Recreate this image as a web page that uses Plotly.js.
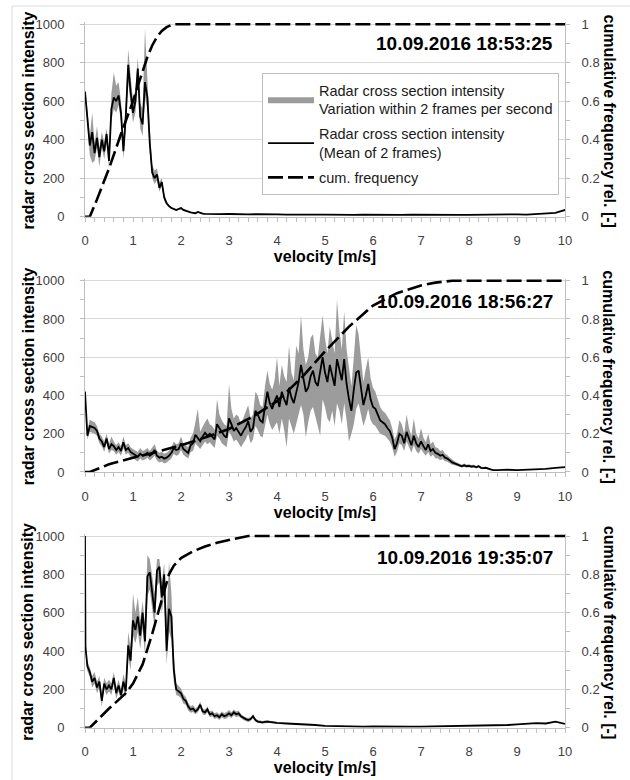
<!DOCTYPE html>
<html>
<head>
<meta charset="utf-8">
<script src="https://cdn.plot.ly/plotly-3.0.1.min.js"></script>
<style>html,body{margin:0;padding:0;background:#fff;}#chart{width:630px;height:780px;}</style>
</head>
<body>
<div id="chart"></div>
<script>
// ---------- Panel 1: 10.09.2016 18:53:25 ----------
const vel1 = [0,0.05,0.1,0.15,0.2,0.25,0.3,0.35,0.4,0.45,0.5,0.55,0.6,0.65,0.7,0.75,0.8,0.85,0.9,0.95,1,1.05,1.1,1.15,1.2,1.25,1.3,1.35,1.4,1.45,1.5,1.55,1.6,1.65,1.7,1.75,1.8,1.85,1.9,1.95,2,2.05,2.1,2.15,2.2,2.25,2.3,2.35,2.4,2.45,2.5,
  2.6,2.8,3,3.2,3.4,3.6,3.8,4,4.2,4.4,4.6,4.8,5,5.2,5.4,5.6,5.8,6,6.2,6.4,6.6,6.8,7,7.2,7.4,7.6,7.8,8,8.2,8.4,8.6,8.8,9,9.2,9.4,9.6,9.8,10];
const mean1 = [650,520,370,440,330,410,310,400,340,430,290,560,620,600,630,540,340,520,790,650,540,600,770,520,480,700,620,380,230,200,220,150,180,100,70,55,45,40,35,40,45,35,30,25,22,20,18,25,20,16,15,
  14,13,14,12,12,13,11,12,11,12,10,11,11,10,12,10,11,10,11,10,10,11,10,9,10,10,9,10,11,10,10,11,12,11,13,15,20,35];
const hi1 = [660,560,420,540,380,470,360,440,390,460,330,640,750,680,700,600,400,600,870,720,600,660,830,590,560,980,700,450,270,240,250,180,200,120,80,62,52,46,40,45,50,40,34,28,25,23,21,28,23,18,17];
const lo1 = [640,480,320,280,290,360,260,360,300,380,250,500,560,540,580,490,300,460,700,590,490,540,680,460,420,620,560,330,200,170,190,130,160,85,62,50,40,35,30,35,40,30,26,22,19,17,15,22,17,14,13];
const cumVel1 = [0,0.1,0.25,0.5,0.75,1.0,1.1,1.2,1.3,1.4,1.5,1.6,1.7,1.8,1.9,10];
const cum1 = [0,0,0.09,0.25,0.43,0.6,0.68,0.76,0.83,0.89,0.935,0.965,0.985,0.997,1,1];

// ---------- Panel 2: 10.09.2016 18:56:27 ----------
const vel2 = [0,0.05,0.1,0.15,0.2,0.25,0.3,0.35,0.4,0.45,0.5,0.55,0.6,0.65,0.7,0.75,0.8,0.85,0.9,0.95,
  1,1.05,1.1,1.15,1.2,1.25,1.3,1.35,1.4,1.45,1.5,1.55,1.6,1.65,1.7,1.75,1.8,1.85,1.9,1.95,
  2,2.05,2.1,2.15,2.2,2.25,2.3,2.35,2.4,2.45,2.5,2.55,2.6,2.65,2.7,2.75,2.8,2.85,2.9,2.95,
  3,3.05,3.1,3.15,3.2,3.25,3.3,3.35,3.4,3.45,3.5,3.55,3.6,3.65,3.7,3.75,3.8,3.85,3.9,3.95,
  4,4.05,4.1,4.15,4.2,4.25,4.3,4.35,4.4,4.45,4.5,4.55,4.6,4.65,4.7,4.75,4.8,4.85,4.9,4.95,
  5,5.05,5.1,5.15,5.2,5.25,5.3,5.35,5.4,5.45,5.5,5.55,5.6,5.65,5.7,5.75,5.8,5.85,5.9,5.95,
  6,6.05,6.1,6.15,6.2,6.25,6.3,6.35,6.4,6.45,6.5,6.55,6.6,6.65,6.7,6.75,6.8,6.85,6.9,6.95,
  7,7.05,7.1,7.15,7.2,7.25,7.3,7.35,7.4,7.45,7.5,7.55,7.6,7.65,7.7,7.75,7.8,7.85,7.9,7.95,
  8,8.05,8.1,8.15,8.2,8.25,8.3,8.35,8.4,8.45,8.5,
  8.6,8.8,9,9.2,9.4,9.6,9.8,10];
const mean2 = [420,190,240,235,230,215,175,160,130,175,
  120,145,135,115,130,110,155,115,125,105,
  95,85,80,95,85,90,100,85,95,115,
  85,75,80,70,75,85,100,125,115,120,
  150,120,110,100,140,150,195,175,160,185,
  205,190,200,185,170,250,230,205,190,180,
  280,250,215,230,210,190,215,235,265,210,
  230,320,300,270,260,340,420,360,330,370,
  400,340,420,380,350,440,390,360,420,470,
  560,480,420,440,500,530,470,450,520,600,
  520,470,560,510,450,590,540,480,590,460,
  380,320,430,520,530,430,350,400,460,380,
  340,330,300,270,260,250,230,215,180,120,
  150,200,190,150,210,170,140,190,150,130,
  160,135,115,145,110,120,100,95,85,90,
  75,70,60,50,45,40,35,30,35,30,
  32,28,30,25,30,22,20,22,18,12,10,
  10,12,10,12,13,16,22,25];
const hi2 = [440,215,275,265,260,240,200,185,160,200,
  145,185,160,140,155,135,185,140,150,130,
  120,110,105,125,110,115,125,110,125,145,
  110,100,105,95,100,110,130,160,145,150,
  185,150,140,130,180,200,260,330,210,240,
  260,280,250,240,220,380,300,270,250,240,
  460,330,280,300,290,250,280,310,350,280,
  300,420,400,350,340,450,530,460,430,480,
  600,450,560,500,470,660,520,480,660,620,
  820,640,560,600,700,720,620,600,700,820,
  700,620,760,680,620,900,740,640,840,640,
  540,450,600,770,720,580,470,540,600,490,
  440,420,380,340,320,310,290,270,230,170,
  200,270,250,200,300,230,190,280,200,175,
  230,180,155,200,145,160,130,125,110,115,
  95,88,75,63,56,50,44,38,44,38,
  40,36,38,32,38,28,26,28,23,16,14];
const lo2 = [400,170,210,205,200,190,150,135,105,150,
  95,115,110,90,105,85,125,90,100,80,
  70,60,55,70,60,65,75,60,70,85,
  60,50,55,45,50,60,70,95,85,90,
  115,90,80,70,105,110,150,135,120,140,
  160,145,155,140,125,190,175,150,140,130,
  210,190,160,170,150,130,150,170,200,150,
  170,240,220,190,180,240,300,250,220,240,
  260,200,280,220,130,280,240,200,250,300,
  350,300,180,260,320,340,290,250,190,380,
  340,280,260,320,240,360,320,250,360,270,
  160,200,250,330,360,300,240,280,330,270,
  250,240,220,200,195,190,175,160,130,80,
  105,150,140,110,160,125,100,140,110,95,
  120,100,85,105,80,90,72,70,62,68,
  56,54,46,38,35,31,27,23,27,23,
  25,21,23,19,23,17,15,17,14,9,7];
const cumVel2 = [0,0.1,0.5,1,1.5,2,2.5,3,3.5,4,4.5,5,5.5,6,6.5,7,7.3,7.65,10];
const cum2 = [0,0,0.04,0.075,0.105,0.14,0.18,0.225,0.29,0.37,0.49,0.63,0.76,0.87,0.935,0.975,0.99,1,1];

// ---------- Panel 3: 10.09.2016 19:35:07 ----------
const vel3 = [0,0.01,0.05,0.1,0.15,0.2,0.25,0.3,0.35,0.4,0.45,0.5,0.55,0.6,0.65,0.7,0.75,0.8,0.85,0.9,0.95,
  1,1.05,1.1,1.15,1.2,1.25,1.3,1.35,1.4,1.45,1.5,1.55,1.6,1.65,1.7,1.75,1.8,1.85,1.9,1.95,
  2,2.05,2.1,2.15,2.2,2.25,2.3,2.35,2.4,2.45,2.5,2.55,2.6,2.65,2.7,2.75,2.8,2.85,2.9,2.95,
  3,3.05,3.1,3.15,3.2,3.25,3.3,3.35,3.4,3.45,3.5,3.55,3.6,3.65,3.7,3.75,3.8,3.85,3.9,3.95,4,
  4.2,4.4,4.6,4.8,5,5.2,5.4,5.6,5.8,6,6.2,6.4,6.6,6.8,7,7.2,7.4,7.6,7.8,8,8.2,8.4,8.6,8.8,9,9.2,9.4,9.6,9.8,10];
const mean3 = [1000,420,320,290,240,260,210,240,140,230,200,220,200,260,180,220,170,240,190,430,350,
  560,510,580,480,600,450,790,810,700,600,820,840,680,800,400,620,580,300,200,190,
  180,150,140,110,95,100,85,95,120,85,80,95,70,75,60,65,55,70,60,65,
  75,65,80,70,75,60,50,45,40,45,60,40,32,30,28,30,32,30,28,26,25,
  22,20,18,14,10,8,7,7,6,7,6,6,7,6,6,7,7,8,8,9,9,10,12,14,17,20,24,22,32,20];
const hi3 = [1000,440,345,315,270,290,240,270,175,260,230,250,230,290,210,250,200,280,230,500,420,
  700,600,680,560,660,540,900,880,780,700,880,880,760,860,560,870,700,380,230,215,
  205,175,160,130,112,118,100,110,135,100,95,110,85,90,75,80,70,85,75,82,
  92,80,95,85,90,72,60,55,50,55,70,48,40,37,35,37,39,36,34,32,30];
const lo3 = [1000,400,295,265,210,230,180,210,110,200,170,190,170,230,150,190,140,200,160,370,300,
  480,440,500,410,520,380,690,720,620,520,740,760,600,700,330,500,460,240,170,165,
  155,125,120,90,78,82,70,80,105,70,65,80,55,60,45,50,40,55,45,48,
  58,50,65,55,60,48,40,35,30,35,50,32,24,23,21,23,25,24,22,20,20];
const cumVel3 = [0,0.1,0.5,0.85,1.0,1.2,1.4,1.6,1.75,1.85,2.0,2.25,2.5,2.75,3.0,3.2,3.4,10];
const cum3 = [0,0,0.1,0.18,0.23,0.33,0.49,0.66,0.8,0.845,0.885,0.92,0.945,0.965,0.98,0.99,1,1];

const timestamps = ['10.09.2016 18:53:25','10.09.2016 18:56:27','10.09.2016 19:35:07'];
const leftTicks = [0,200,400,600,800,1000];
const rightTicks = [0,0.2,0.4,0.6,0.8,1];
const legendNames = ['Radar cross section intensity<br>Variation within 2 frames per second',
  'Radar cross section intensity<br>(Mean of 2 frames)','cum. frequency'];

// ---------- Build ----------
const FONT = 'Liberation Sans, Arial, sans-serif';
const panels = [
  {vel:vel1, mean:mean1, hi:hi1, lo:lo1, cv:cumVel1, cum:cum1},
  {vel:vel2, mean:mean2, hi:hi2, lo:lo2, cv:cumVel2, cum:cum2},
  {vel:vel3, mean:mean3, hi:hi3, lo:lo3, cv:cumVel3, cum:cum3}
];
// pixel rows of value 1000 and 0 for each panel
const pix = [[24.3,216.7],[280.7,472],[536,727.7]];
const H = 780;
const traces = [];
const layout = {
  width:630, height:780, margin:{l:85,r:65,t:0,b:0},
  paper_bgcolor:'#ffffff', plot_bgcolor:'#ffffff',
  font:{family:FONT, color:'#404040', size:13},
  hovermode:false, showlegend:true,
  legend:{x:(262-85)/480, y:1-73/H, xanchor:'left', yanchor:'top', bgcolor:'#ffffff',
    bordercolor:'#bfbfbf', borderwidth:1, font:{family:FONT, size:14.5, color:'#1a1a1a'},
    itemwidth:46, tracegroupgap:3, valign:'middle'},
  annotations:[], shapes:[]
};

panels.forEach((p, i) => {
  const xa = i===0 ? 'x' : 'x'+(i+1);
  const ya = 'y'+(2*i+1===1 ? '' : (2*i+1));
  const yb = 'y'+(2*i+2);
  const first = i===0;
  const n = p.hi.length;
  const bandX = p.vel.slice(0, n);
  traces.push({x:bandX, y:p.lo, xaxis:xa, yaxis:ya, type:'scatter', mode:'lines',
    line:{width:0, color:'rgba(0,0,0,0)'}, showlegend:false, hoverinfo:'skip'});
  traces.push({x:bandX, y:p.hi, xaxis:xa, yaxis:ya, type:'scatter', mode:'lines',
    line:{width:0, color:'rgba(0,0,0,0)'}, fill:'tonexty', fillcolor:'#9c9c9c',
    name:legendNames[0], legendgroup:'g1', showlegend:first});
  traces.push({x:p.vel, y:p.mean, xaxis:xa, yaxis:ya, type:'scatter', mode:'lines',
    line:{width:1.8, color:'#000000'}, name:legendNames[1], legendgroup:'g2', showlegend:first});
  traces.push({x:p.cv, y:p.cum, xaxis:xa, yaxis:yb, type:'scatter', mode:'lines',
    line:{width:2.6, color:'#000000', dash:'15px,5px'}, name:legendNames[2], legendgroup:'g3', showlegend:first});

  const top = pix[i][0], bot = pix[i][1];
  const pxPer = (bot-top)/1000;
  const topExt = top - 10*pxPer;
  const dom = [1-bot/H, 1-topExt/H];
  const xKey = i===0 ? 'xaxis' : 'xaxis'+(i+1);
  const yKey = 'yaxis'+(i===0 ? '' : (2*i+1));
  const y2Key = 'yaxis'+(2*i+2);
  layout[xKey] = {domain:[0,1], anchor:ya, range:[0,10], tick0:0, dtick:1,
    showline:true, linecolor:'#bfbfbf', linewidth:1, showgrid:false, zeroline:false,
    ticks:'outside', ticklen:4, tickcolor:'#bfbfbf', ticklabelstandoff:8,
    minor:{dtick:0.2, ticks:'outside', ticklen:4, tickcolor:'#bfbfbf', showgrid:false},
    tickfont:{size:13, color:'#404040'},
    title:{text:'<b>velocity [m/s]</b>', font:{size:16, color:'#000000'}, standoff:2}};
  layout[yKey] = {domain:dom, anchor:xa, range:[0,1010], tickvals:leftTicks,
    showline:true, linecolor:'#bfbfbf', linewidth:1, showgrid:true, gridcolor:'#d9d9d9', gridwidth:1,
    zeroline:false, ticks:'outside', ticklen:4, tickcolor:'#bfbfbf', ticklabelstandoff:13,
    minor:{dtick:100, ticks:'outside', ticklen:4, tickcolor:'#bfbfbf', showgrid:false},
    tickfont:{size:13, color:'#404040'}};
  layout[y2Key] = {overlaying:ya, side:'right', anchor:xa, range:[0,1.01], tickvals:rightTicks,
    showline:true, linecolor:'#bfbfbf', linewidth:1, showgrid:false, zeroline:false,
    ticks:'outside', ticklen:4, tickcolor:'#bfbfbf', ticklabelstandoff:9,
    minor:{dtick:0.1, ticks:'outside', ticklen:4, tickcolor:'#bfbfbf', showgrid:false},
    tickfont:{size:13, color:'#404040'}};
  const midY = 1-((top+bot)/2)/H;
  // left-hand axis title (reads bottom to top)
  layout.annotations.push({xref:'paper', yref:'paper', x:(28-85)/480, y:midY,
    xanchor:'center', yanchor:'middle', textangle:-90, showarrow:false,
    text:'<b>radar cross section intensity</b>', font:{family:FONT, size:16, color:'#000000'}});
  // right-hand axis title, reading top to bottom
  layout.annotations.push({xref:'paper', yref:'paper', x:(609-85)/480, y:midY,
    xanchor:'center', yanchor:'middle', textangle:90, showarrow:false,
    text:'<b>cumulative frequency rel. [-]</b>', font:{family:FONT, size:16, color:'#000000'}});
  const tsY = [43, 302, 557][i];
  layout.annotations.push({xref:'paper', yref:'paper', x:(555-85)/480, y:1-tsY/H,
    xanchor:'right', yanchor:'middle', showarrow:false,
    text:'<b>'+timestamps[i]+'</b>', font:{family:FONT, size:19, color:'#000000'}});
});

// outer chart frame (top and left edges visible)
const fx0 = (12-85)/480, fx1 = (630-85)/480, fy = 1-6/H;
layout.shapes.push({type:'line', xref:'paper', yref:'paper', x0:fx0, x1:fx1, y0:fy, y1:fy, line:{color:'#d9d9d9', width:1}});
layout.shapes.push({type:'line', xref:'paper', yref:'paper', x0:fx0, x1:fx0, y0:0, y1:fy, line:{color:'#d9d9d9', width:1}});

Plotly.newPlot('chart', traces, layout, {staticPlot:true, displayModeBar:false});
</script>
</body>
</html>
